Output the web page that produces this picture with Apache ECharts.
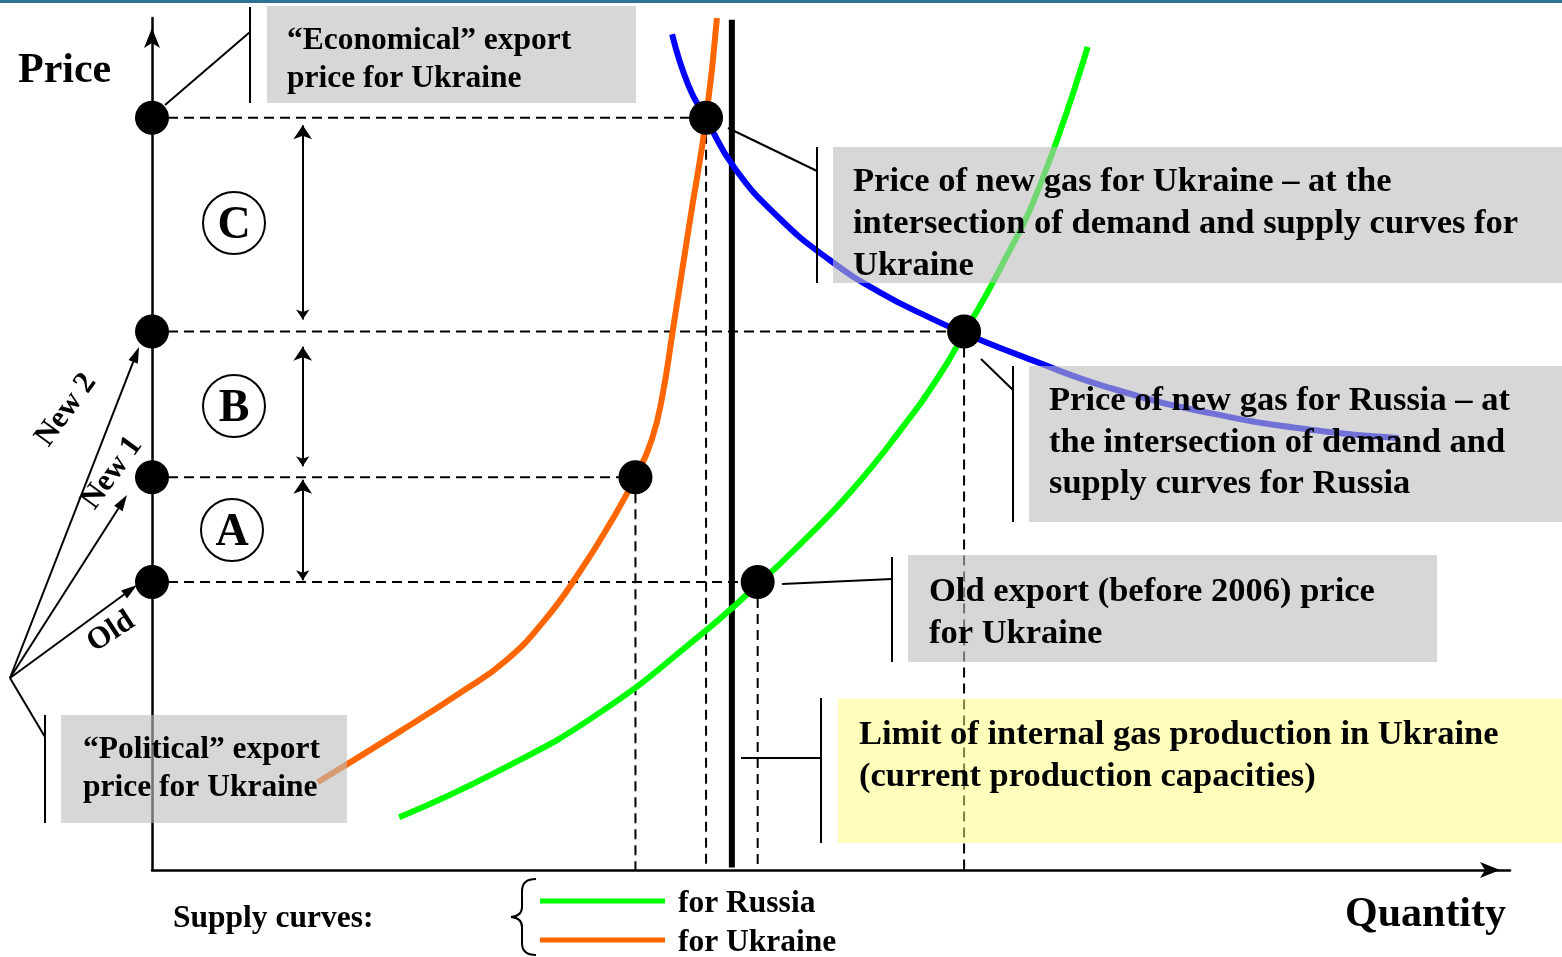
<!DOCTYPE html>
<html><head><meta charset="utf-8">
<script src="https://cdn.jsdelivr.net/npm/echarts@6/dist/echarts.min.js"></script>
<style>html,body{margin:0;padding:0;background:#fff}#c{width:1562px;height:957px}</style>
</head><body><div id="c"></div>
<script>
// ---- data (abstract units: quantity 0..100, price 0..100) ----
const priceLevelNames = ['Old', 'New 1', 'New 2', 'Economical'];
const priceLevels = [33.8, 46.1, 63.2, 88.3];
const priceLevelQty = [44.6, 35.6, 59.8, 40.8];
const productionLimitQty = 42.7;
const productionLimitSpan = [0.3, 99.8];
const ukraineSupply = [[12.2,10.3],[18.3,16.3],[22.7,20.8],[26.0,24.5],[28.9,29.3],[31.5,35.0],[33.7,40.6],[35.6,46.1],[36.8,50.5],[37.6,55.8],[38.3,62.8],[39.6,76.1],[40.8,88.2],[41.6,100]];
const russiaSupply = [[18.2,6.2],[25.6,11.7],[33.0,18.5],[40.4,27.6],[44.6,33.5],[47.7,38.2],[51.4,44.3],[55.1,51.6],[58.0,58.1],[59.8,63.0],[62.4,70.4],[65.4,80.4],[68.9,96.6]];
const demandCurve = [[38.3,98.1],[39.5,92.1],[40.8,88.2],[42.9,82.4],[46.2,76.5],[49.9,71.6],[53.6,67.8],[57.3,64.8],[59.8,63.0],[64.7,59.9],[70.5,56.6],[78.3,53.5],[86.2,51.5],[91.8,50.7]];
const gapArrowQty = 11.1;
const gapArrowLabels = ['A', 'B', 'C'];
const gapArrowSpans = [[34.0, 45.8], [47.4, 61.4], [64.6, 87.4]];

// ---- build ----
const FONT = '"Liberation Serif", "Times New Roman", serif';
const series = [];
const dashStyle = {color:'#000', width:2, type:[10,6]};
function lineSeries(data, style, z) {
  return {type:'line', data, symbol:'none', silent:true, animation:false, clip:false, z:z||2, lineStyle:style};
}
priceLevels.forEach((p, i) => {
  series.push(lineSeries([[0, p], [priceLevelQty[i], p]], dashStyle));
  series.push(lineSeries([[priceLevelQty[i], p], [priceLevelQty[i], 0]], dashStyle));
});
series.push(lineSeries([[productionLimitQty, productionLimitSpan[0]], [productionLimitQty, productionLimitSpan[1]]], {color:'#000', width:6}, 3));
const curveOpt = {smooth:0.5};
series.push(Object.assign(lineSeries(ukraineSupply, {color:'#ff6600', width:6}, 4), curveOpt));
series.push(Object.assign(lineSeries(russiaSupply, {color:'#00ff00', width:6}, 4), curveOpt));
series.push(Object.assign(lineSeries(demandCurve, {color:'#0000ff', width:6}, 4), curveOpt));
series.push({
  type:'lines', coordinateSystem:'cartesian2d', silent:true, animation:false, z:5,
  symbol:['arrow','arrow'], symbolSize:[10,14],
  lineStyle:{color:'#000', width:2, opacity:1},
  data: gapArrowSpans.map(s => ({coords:[[gapArrowQty, s[0]], [gapArrowQty, s[1]]]}))
});
const dots = [];
priceLevels.forEach((p, i) => { dots.push([0, p]); dots.push([priceLevelQty[i], p]); });
series.push({type:'scatter', data:dots, symbol:'circle', symbolSize:[34,34], itemStyle:{color:'#000', opacity:1}, silent:true, animation:false, clip:false, z:6});

// ---- annotation graphics (pixel layout) ----
const g = [];
const TY = 3;
function txt(str, x, y, size, extra) {
  return Object.assign({type:'text', x:x, y:y + TY, z:30, silent:true,
    style:{text:str, font:'bold ' + size + 'px ' + FONT, fill:'#000', verticalAlign:'middle', align:'left'}}, extra || {});
}
function ctxt(str, x, y, size, rot) {
  return {type:'text', x:x, y:y, z:30, silent:true, rotation:(rot || 0) * Math.PI / 180,
    style:{text:str, font:'bold ' + size + 'px ' + FONT, fill:'#000', verticalAlign:'middle', align:'center'}};
}
function seg(x1, y1, x2, y2, w) {
  return {type:'line', z:25, silent:true, shape:{x1, y1, x2, y2}, style:{stroke:'#000', lineWidth:w || 2}};
}
function box(x, y, w, h, fill) {
  return {type:'rect', z:20, silent:true, shape:{x, y, width:w, height:h}, style:{fill}};
}
function arrow(x1, y1, x2, y2) {
  const a = Math.atan2(y2 - y1, x2 - x1), L = 16, W = 5;
  const bx = x2 - L * Math.cos(a), by = y2 - L * Math.sin(a);
  return [seg(x1, y1, bx, by, 2),
    {type:'polygon', z:25, silent:true, shape:{points:[[x2, y2], [bx - W * Math.sin(a), by + W * Math.cos(a)], [bx + W * Math.sin(a), by - W * Math.cos(a)]]}, style:{fill:'#000'}}];
}
function curve(x1, y1, cx, cy, x2, y2) {
  return {type:'bezierCurve', z:25, silent:true, shape:{x1, y1, x2, y2, cpx1:cx, cpy1:cy}, style:{stroke:'#000', lineWidth:2, fill:null}};
}
const GRAY = 'rgba(188,188,188,0.6)';
const YEL = 'rgba(255,255,120,0.5)';
// top border
g.push({type:'rect', z:40, shape:{x:0, y:0, width:1562, height:3}, style:{fill:'#2e7197'}});
// Economical box
g.push(box(267, 6, 369, 97, GRAY));
g.push(seg(250, 7, 250, 103), seg(250, 32, 165, 105));
g.push(txt('\u201CEconomical\u201D export', 287, 38, 31.5), txt('price for Ukraine', 287, 76, 31.5));
// Ukraine new gas price box
g.push(box(833, 147, 729, 136, GRAY));
g.push(seg(817, 147, 817, 283), seg(817, 171, 728, 128));
g.push(txt('Price of new gas for Ukraine \u2013 at the', 853, 179, 34.5),
       txt('intersection of demand and supply curves for', 853, 221, 34.5),
       txt('Ukraine', 853, 263, 34.5));
// Russia new gas price box
g.push(box(1029, 366, 533, 156, GRAY));
g.push(seg(1013, 366, 1013, 522), seg(1013, 390, 981, 359));
g.push(txt('Price of new gas for Russia \u2013 at', 1049, 398, 34.5),
       txt('the intersection of demand and', 1049, 440, 34.5),
       txt('supply curves for Russia', 1049, 481, 34.5));
// Old export box
g.push(box(908, 555, 529, 107, GRAY));
g.push(seg(892, 557, 892, 662), seg(892, 579, 782, 584));
g.push(txt('Old export (before 2006) price', 929, 589, 34.5), txt('for Ukraine', 929, 631, 34.5));
// Limit box (yellow)
g.push(box(838, 699, 724, 144, YEL));
g.push(seg(821, 698, 821, 843), seg(821, 758, 741, 758));
g.push(txt('Limit of internal gas production in Ukraine', 859, 732, 34.5),
       txt('(current production capacities)', 859, 774, 34.5));
// Political box
g.push(box(61, 715, 286, 108, GRAY));
g.push(seg(45, 715, 45, 823), seg(45, 737, 10, 678));
g.push(txt('\u201CPolitical\u201D export', 83, 747, 31.5), txt('price for Ukraine', 83, 785, 31.5));
// arrows to price levels on axis
g.push(...arrow(10, 678, 139, 347), ...arrow(10, 678, 127, 495), ...arrow(10, 678, 137, 585));
g.push(ctxt('New 2', 66, 410, 31, 54), ctxt('New 1', 112, 473, 31, 54), ctxt('Old', 111, 632, 31, 33));
// circled letters
[[232, 530], [234, 406], [234, 223]].forEach((c, i) => {
  g.push({type:'circle', z:25, shape:{cx:c[0], cy:c[1], r:31}, style:{fill:'#fff', stroke:'#000', lineWidth:2}});
  g.push(ctxt(gapArrowLabels[i], c[0], c[1] + 3, 46, 0));
});
// axis titles
g.push(txt('Price', 18, 68, 42), txt('Quantity', 1345, 912, 42));
// legend
g.push(txt('Supply curves:', 173, 916, 31.5));
g.push(curve(536, 879, 522, 879, 522, 891), seg(522, 891, 522, 907), curve(522, 907, 522, 916, 511, 917),
       curve(511, 917, 522, 918, 522, 927), seg(522, 927, 522, 943), curve(522, 943, 522, 955, 536, 955));
g.push({type:'line', z:25, shape:{x1:540, y1:901, x2:665, y2:901}, style:{stroke:'#00ff00', lineWidth:5}});
g.push({type:'line', z:25, shape:{x1:540, y1:940, x2:665, y2:940}, style:{stroke:'#ff6600', lineWidth:5}});
g.push(txt('for Russia', 678, 901, 31.5), txt('for Ukraine', 678, 940, 31.5));

const axisCommon = {type:'value', min:0, max:100, axisTick:{show:false}, axisLabel:{show:false}, splitLine:{show:false},
  axisLine:{show:true, onZero:false, lineStyle:{color:'#000', width:2.5}, symbol:['none','arrow'], symbolSize:[12,20], symbolOffset:[0,-10]}};
const chart = echarts.init(document.getElementById('c'), null, {renderer:'canvas'});
chart.setOption({
  animation:false,
  backgroundColor:'#fff',
  grid:{left:152, top:18, width:1358, height:852},
  xAxis:axisCommon,
  yAxis:axisCommon,
  series:series,
  graphic:{elements:g}
});
</script></body></html>
